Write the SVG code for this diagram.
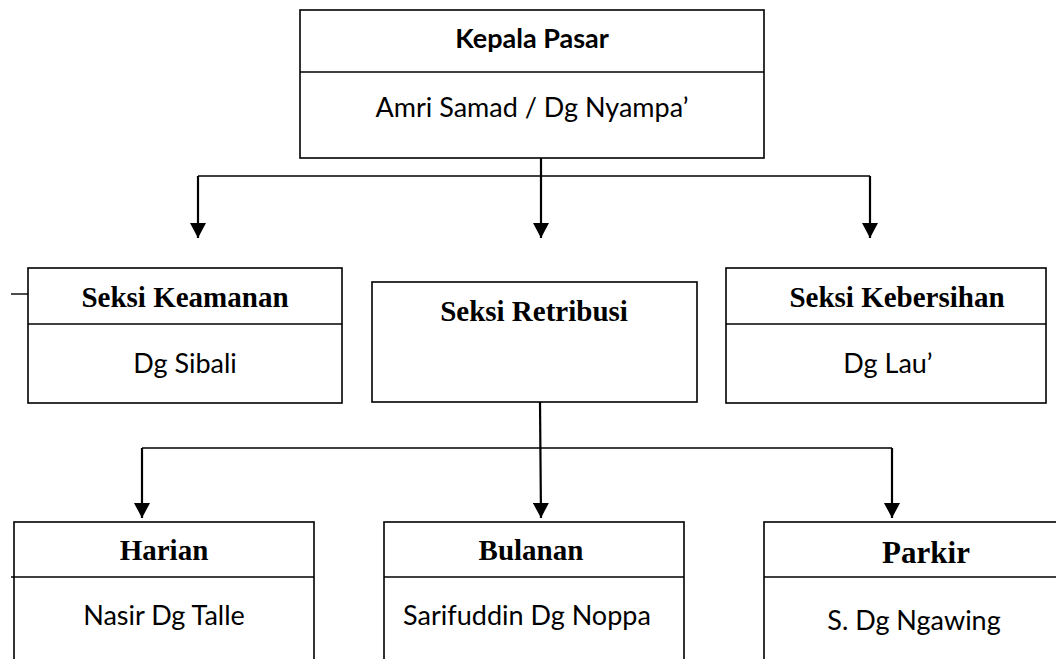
<svg xmlns="http://www.w3.org/2000/svg" width="1056" height="659" viewBox="0 0 1056 659">
<defs>
<style>
.box{fill:#fff;stroke:#000;stroke-width:1.6}
.div{stroke:#000;stroke-width:1.6}
.ln{stroke:#000;stroke-width:1.4;fill:none}
.ar{stroke:#000;stroke-width:2.2;fill:none}
.sans{font-family:Lato,"Liberation Sans",sans-serif;font-size:27px;fill:#000;text-anchor:middle}
.sansb{font-family:Lato,"Liberation Sans",sans-serif;font-size:27px;font-weight:bold;fill:#000;text-anchor:middle}
.serif{font-family:"Liberation Serif","Times New Roman",serif;font-size:29px;font-weight:bold;fill:#000;text-anchor:middle}
</style>
<marker id="ah" markerUnits="userSpaceOnUse" markerWidth="16" markerHeight="16" refX="15" refY="8" orient="auto">
<path d="M0,0 L15,8 L0,16 z" fill="#000"/>
</marker>
</defs>
<rect width="1056" height="659" fill="#fff"/>
<g id="connectors">
<line class="ar" x1="541" y1="158" x2="541" y2="238" marker-end="url(#ah)"/>
<line class="ln" x1="198" y1="176" x2="870" y2="176"/>
<line class="ar" x1="198" y1="176" x2="198" y2="238" marker-end="url(#ah)"/>
<line class="ar" x1="870" y1="176" x2="870" y2="238" marker-end="url(#ah)"/>
<line class="ln" x1="11" y1="294" x2="28" y2="294"/>
<line class="ar" x1="540" y1="402" x2="541" y2="518" marker-end="url(#ah)"/>
<line class="ln" x1="142" y1="448" x2="892" y2="448"/>
<line class="ar" x1="142" y1="448" x2="142" y2="518" marker-end="url(#ah)"/>
<line class="ar" x1="892" y1="448" x2="892" y2="518" marker-end="url(#ah)"/>
</g>
<g id="kepala">
<rect class="box" x="300" y="10" width="464" height="148"/>
<line class="div" x1="300" y1="72" x2="764" y2="72"/>
<text class="sansb" x="532" y="48">Kepala Pasar</text>
<text class="sans" x="532" y="117">Amri Samad / Dg Nyampa’</text>
</g>
<g id="keamanan">
<rect class="box" x="28" y="268" width="314" height="135"/>
<line class="div" x1="28" y1="324" x2="342" y2="324"/>
<text class="serif" x="185" y="307">Seksi Keamanan</text>
<text class="sans" x="185" y="373">Dg Sibali</text>
</g>
<g id="retribusi">
<rect class="box" x="372" y="282" width="325" height="120"/>
<text class="serif" x="534" y="321">Seksi Retribusi</text>
</g>
<g id="kebersihan">
<rect class="box" x="726" y="268" width="320" height="135"/>
<line class="div" x1="726" y1="324" x2="1046" y2="324"/>
<text class="serif" x="897" y="307">Seksi Kebersihan</text>
<text class="sans" x="888" y="373">Dg Lau’</text>
</g>
<g id="harian">
<rect class="box" x="14" y="522" width="300" height="160"/>
<line class="div" x1="11" y1="577" x2="314" y2="577"/>
<text class="serif" x="164" y="560">Harian</text>
<text class="sans" x="164" y="625">Nasir Dg Talle</text>
</g>
<g id="bulanan">
<rect class="box" x="384" y="522" width="300" height="160"/>
<line class="div" x1="384" y1="577" x2="684" y2="577"/>
<text class="serif" x="531" y="560">Bulanan</text>
<text class="sans" x="527" y="625">Sarifuddin Dg Noppa</text>
</g>
<g id="parkir">
<rect class="box" x="764" y="522" width="310" height="160"/>
<line class="div" x1="764" y1="577" x2="1074" y2="577"/>
<text class="serif" x="926" y="563" style="font-size:31px">Parkir</text>
<text class="sans" x="914" y="630">S. Dg Ngawing</text>
</g>
</svg>
